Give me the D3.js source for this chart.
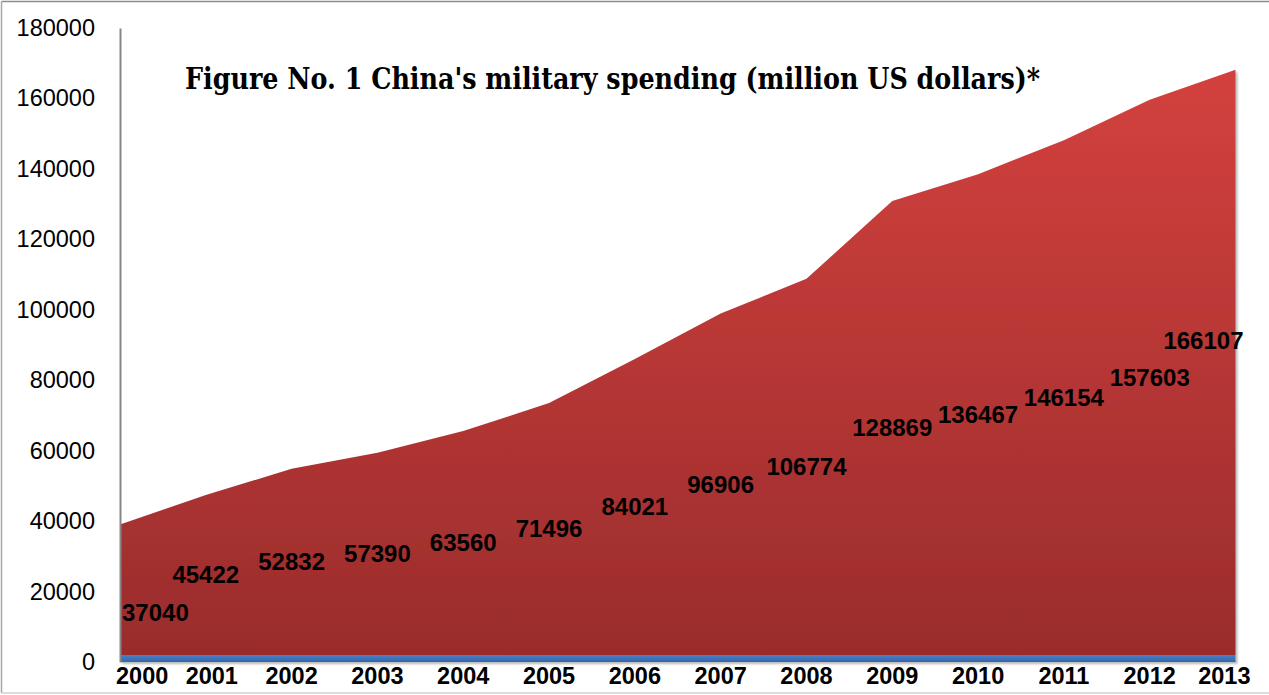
<!DOCTYPE html>
<html>
<head>
<meta charset="utf-8">
<script src="https://cdn.jsdelivr.net/npm/d3@7"></script>
<style>
  html, body { margin: 0; padding: 0; background: #fff; }
  svg { display: block; }
</style>
</head>
<body>
<svg id="chart" width="1269" height="695"></svg>
<script>
// ---- data ----
const years = [2000, 2001, 2002, 2003, 2004, 2005, 2006, 2007, 2008, 2009, 2010, 2011, 2012, 2013];
// first (blue) series: the year values themselves, plotted at the bottom of the stack
const seriesYear = [2000, 2001, 2002, 2003, 2004, 2005, 2006, 2007, 2008, 2009, 2010, 2011, 2012, 2013];
// second (red) series: China's military spending, million US dollars
const spending = [37040, 45422, 52832, 57390, 63560, 71496, 84021, 96906, 106774, 128869, 136467, 146154, 157603, 166107];
const yTicks = [0, 20000, 40000, 60000, 80000, 100000, 120000, 140000, 160000, 180000];
const titleText = "Figure No. 1 China's military spending (million US dollars)*";

(function () {
// ---- layout ----
const W = 1269, H = 695;
const mLeft = 120, mRight = 1235.5, mTop = 28, mBottom = 662;

const svg = d3.select("#chart");
const defs = svg.append("defs");

const grad = defs.append("linearGradient")
  .attr("id", "redGrad").attr("x1", 0).attr("y1", 0).attr("x2", 0).attr("y2", 1);
grad.append("stop").attr("offset", "0%").attr("stop-color", "#d3413e");
grad.append("stop").attr("offset", "100%").attr("stop-color", "#9a2c2c");

const blueGrad = defs.append("linearGradient")
  .attr("id", "blueGrad").attr("x1", 0).attr("y1", 0).attr("x2", 0).attr("y2", 1);
blueGrad.append("stop").attr("offset", "0%").attr("stop-color", "#4a80c8");
blueGrad.append("stop").attr("offset", "100%").attr("stop-color", "#3465aa");

const shadow = defs.append("filter").attr("id", "shadow")
  .attr("x", "-5%").attr("y", "-5%").attr("width", "110%").attr("height", "110%");
shadow.append("feDropShadow").attr("dx", 2).attr("dy", 2).attr("stdDeviation", 1)
  .attr("flood-color", "#000").attr("flood-opacity", 0.28);

// outer frame
svg.append("line").attr("x1", 1.5).attr("x2", W).attr("y1", 1.5).attr("y2", 1.5)
  .attr("stroke", "#8c8c8c").attr("stroke-width", 1.5);
svg.append("line").attr("x1", 1.5).attr("x2", 1.5).attr("y1", 1.5).attr("y2", 693)
  .attr("stroke", "#a6a6a6").attr("stroke-width", 1.5);
svg.append("line").attr("x1", 1.5).attr("x2", W).attr("y1", 693).attr("y2", 693)
  .attr("stroke", "#d0d0d0").attr("stroke-width", 1.5);

// scales
const x = d3.scalePoint().domain(years).range([mLeft, mRight]);
const y = d3.scaleLinear().domain([0, 180000]).range([mBottom, mTop]);

// stacked data
const rows = years.map((yr, i) => ({ year: yr, base: seriesYear[i], spend: spending[i] }));
const stack = d3.stack().keys(["base", "spend"])(rows);

const area = d3.area()
  .x(d => x(d.data.year))
  .y0(d => y(d[0]))
  .y1(d => y(d[1]));

const g = svg.append("g").attr("filter", "url(#shadow)");
g.append("path").datum(stack[1]).attr("d", area).attr("fill", "url(#redGrad)");
g.append("path").datum(stack[0]).attr("d", area).attr("fill", "url(#blueGrad)");

// y axis
const yAxis = d3.axisLeft(y).tickValues(yTicks).tickSize(0).tickPadding(25).tickFormat(d3.format("d"));
const ya = svg.append("g").attr("transform", `translate(${mLeft},0)`).call(yAxis);
ya.select(".domain").attr("stroke", "#868686").attr("stroke-width", 2);
ya.selectAll("text")
  .attr("font-family", "'Liberation Sans', Arial, sans-serif")
  .attr("font-size", 23.5).attr("fill", "#000");

// x axis labels
const xa = svg.append("g");
xa.selectAll("text").data(years).enter().append("text")
  .attr("x", d => x(d))
  .attr("y", 684)
  .attr("text-anchor", (d, i) => i === 0 ? "start" : (i === years.length - 1 ? "end" : "middle"))
  .attr("dx", (d, i) => i === 0 ? -4 : (i === years.length - 1 ? 15 : (i === 1 ? 6 : 0)))
  .attr("font-family", "'Liberation Sans', Arial, sans-serif")
  .attr("font-weight", "bold").attr("font-size", 23.5).attr("fill", "#000")
  .text(d => d);

// data labels
const lab = svg.append("g");
lab.selectAll("text").data(rows).enter().append("text")
  .attr("x", d => x(d.year))
  .attr("y", d => y(d.base + d.spend / 2))
  .attr("dy", (d, i) => i === 0 ? "1.3em" : (i === rows.length - 1 ? "-0.55em" : "0.35em"))
  .attr("text-anchor", (d, i) => i === 0 ? "start" : (i === rows.length - 1 ? "end" : "middle"))
  .attr("dx", (d, i) => i === 0 ? 2 : (i === rows.length - 1 ? 8 : 0))
  .attr("font-family", "'Liberation Sans', Arial, sans-serif")
  .attr("font-weight", "bold").attr("font-size", 24).attr("fill", "#000")
  .text(d => d.spend);

// title
const title = svg.append("text")
  .attr("x", 185).attr("y", 89)
  .attr("font-family", "'DejaVu Serif', 'Liberation Serif', serif")
  .attr("font-weight", "bold").attr("font-size", 29).attr("fill", "#000")
  .text(titleText);
const tw = title.node().getComputedTextLength();
if (tw > 0) title.attr("textLength", 855).attr("lengthAdjust", "spacingAndGlyphs");
})();
</script>
</body>
</html>
